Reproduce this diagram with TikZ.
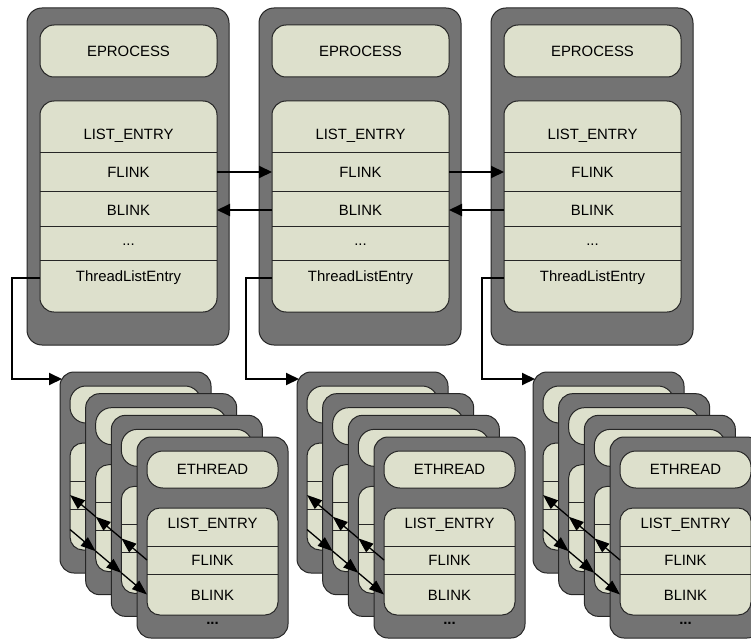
\documentclass[tikz,border=0pt]{standalone}
\usepackage{fontspec}
\setmainfont{Liberation Sans}
\usetikzlibrary{arrows.meta,calc}
\definecolor{boxgray}{RGB}{115,115,115}
\definecolor{beige}{RGB}{221,224,204}
\definecolor{edgecol}{RGB}{38,38,38}
\newcommand\lblfont{\fontsize{14.9}{17}\selectfont}
\tikzset{
  outerbox/.style={draw=edgecol, line width=1pt, fill=boxgray, rounded corners=15pt, anchor=north west, inner sep=0pt, outer sep=0pt},
  innerbox/.style={draw=edgecol, line width=1pt, fill=beige, rounded corners=14pt, anchor=north west, inner sep=0pt, outer sep=0pt},
  lbl/.style={font=\lblfont, inner sep=0pt, text=black},
  sepline/.style={draw=edgecol, line width=0.9pt},
  link/.style={line width=2pt, -{Triangle[length=13pt,width=12pt]}},
  clink/.style={line width=1.3pt, -{Triangle[length=15pt,width=11pt]}},
}
\begin{document}
\begin{tikzpicture}[x=1pt,y=-1pt]
\clip (0,0) rectangle (751,639);
\fill[white] (0,0) rectangle (751,639);

% ---------- EPROCESS blocks ----------
\foreach \i/\dx in {1/0,2/232,3/464}{
  \node[outerbox, minimum width=202, minimum height=337] (P\i) at (27+\dx,8) {};
  \node[innerbox, minimum width=177, minimum height=52, font=\lblfont] (E\i) at (40+\dx,25) {EPROCESS};
  \node[innerbox, minimum width=177, minimum height=211] (L\i) at (40+\dx,101) {};
  \foreach \yy in {152,191,226,260}
    \draw[sepline] (L\i.west |- 0,\yy) -- (L\i.east |- 0,\yy);
  \node[lbl] (LE\i) at (128.5+\dx,136) {LIST\_ENTRY};
  \node[lbl] (FL\i) at (128.5+\dx,172) {FLINK};
  \node[lbl] (BL\i) at (128.5+\dx,210) {BLINK};
  \node[lbl] (DT\i) at (128.5+\dx,245) {...};
  \node[lbl] (TH\i) at (128.5+\dx,278) {ThreadListEntry};
}

% links between processes
\draw[link] (L1.east |- FL1) -- (L2.west |- FL2);
\draw[link] (L2.west |- BL2) -- (L1.east |- BL1);
\draw[link] (L2.east |- FL2) -- (L3.west |- FL3);
\draw[link] (L3.west |- BL3) -- (L2.east |- BL2);

% ---------- ETHREAD stacks ----------
\foreach \s/\X in {1/60,2/297,3/533}{
  \foreach \k in {1,2,3,4}{
    \pgfmathsetmacro\cx{\X+25.67*(\k-1)}
    \pgfmathsetmacro\cy{372+21.67*(\k-1)}
    \node[outerbox, minimum width=151, minimum height=201, rounded corners=14pt] (T\s\k) at (\cx,\cy) {};
    \node[innerbox, minimum width=131, minimum height=37, rounded corners=16pt] (TE\s\k) at (\cx+10,\cy+14) {};
    \node[innerbox, minimum width=131, minimum height=107, rounded corners=13pt] (TL\s\k) at (\cx+10,\cy+71) {};
    \draw[sepline] (\cx+10,\cy+109) -- (\cx+141,\cy+109);
    \draw[sepline] (\cx+10,\cy+137) -- (\cx+141,\cy+137);
    \coordinate (F\s\k) at (\cx+10,\cy+123);
    \coordinate (B\s\k) at (\cx+10,\cy+157.5);
  }
  \node[lbl] (ET\s) at (TE\s4) {ETHREAD};
  \node[lbl] (TLE\s) at ($(T\s4.north)+(0,88)$) {LIST\_ENTRY};
  \node[lbl] (TFL\s) at ($(T\s4.north)+(0,123)$) {FLINK};
  \node[lbl] (TBL\s) at ($(T\s4.north)+(0,158)$) {BLINK};
  \node[lbl, font=\lblfont\bfseries] (TDT\s) at ($(T\s4.north)+(0,186)$) {...};
  \foreach \a/\b in {1/2,2/3,3/4}{
    \draw[clink] (F\s\b) -- (F\s\a);
    \draw[clink] (B\s\a) -- (B\s\b);
  }
}

% ---------- ThreadListEntry connectors ----------
\draw[link] (L1.west |- TH1) -| (12,379) -- ($(T11.north west)+(2,7)$);
\draw[link] (L2.west |- TH2) -| (246,379) -- ($(T21.north west)+(2,7)$);
\draw[link] (L3.west |- TH3) -| (482,379) -- ($(T31.north west)+(2,7)$);
\end{tikzpicture}
\end{document}
